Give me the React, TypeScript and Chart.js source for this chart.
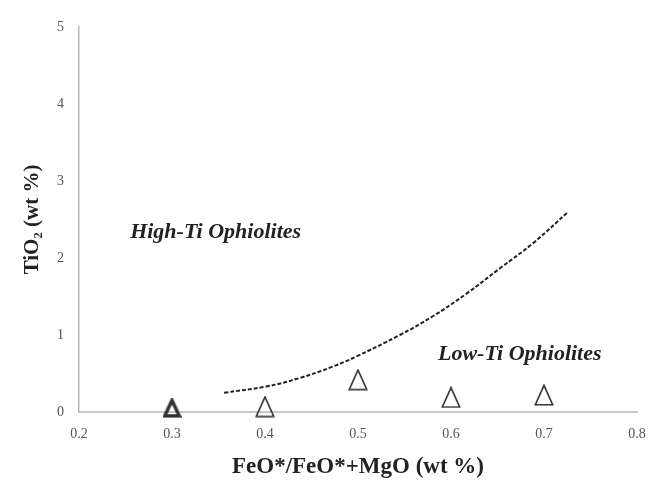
import React, { useEffect, useRef } from "react";
import { Chart, registerables } from "chart.js";

Chart.register(...registerables);

// Sample points (FeO*/FeO*+MgO vs TiO2)
const sampleX = [0.3, 0.4, 0.5, 0.6, 0.7];
const sampleY = [0.05, 0.07, 0.42, 0.19, 0.22];
const sampleBorderWidths = [3.5, 1.6, 1.6, 1.6, 1.6];

// Dividing curve (dashed)
const curveX = [0.356, 0.401, 0.437, 0.473, 0.498, 0.545, 0.58, 0.617, 0.653, 0.688, 0.726];
const curveY = [0.25, 0.33, 0.44, 0.59, 0.72, 1.0, 1.24, 1.54, 1.87, 2.19, 2.6];

// Field labels
const fieldLabels = ["High-Ti Ophiolites", "Low-Ti Ophiolites"];
const fieldLabelX = [0.255, 0.586];
const fieldLabelY = [2.34, 0.75];

// Axis ticks
const xTicks = [0.2, 0.3, 0.4, 0.5, 0.6, 0.7, 0.8];
const yTicks = [0, 1, 2, 3, 4, 5];

const SERIF = "'Liberation Serif', 'Times New Roman', serif";

function makeTriangle(lineWidth: number, w: number, h: number) {
  const c = document.createElement("canvas");
  c.width = w;
  c.height = h;
  const g = c.getContext("2d")!;
  const p = lineWidth / 2 + 0.5;
  g.strokeStyle = "#333";
  g.lineWidth = lineWidth;
  g.lineJoin = "miter";
  g.beginPath();
  g.moveTo(w / 2, p);
  g.lineTo(w - p, h - p);
  g.lineTo(p, h - p);
  g.closePath();
  g.stroke();
  return c;
}

const fieldLabelPlugin = {
  id: "fieldLabels",
  afterDatasetsDraw(chart: any) {
    const { ctx, scales } = chart;
    ctx.save();
    ctx.font = `italic bold 22px ${SERIF}`;
    ctx.fillStyle = "#222";
    ctx.textAlign = "left";
    ctx.textBaseline = "middle";
    fieldLabels.forEach((t, i) => {
      ctx.fillText(t, scales.x.getPixelForValue(fieldLabelX[i]), scales.y.getPixelForValue(fieldLabelY[i]));
    });
    ctx.restore();
  },
};

export default function App() {
  const ref = useRef<HTMLCanvasElement | null>(null);

  useEffect(() => {
    if (!ref.current) return;
    const triangles = sampleBorderWidths.map((lw) => (lw > 2 ? makeTriangle(lw, 19, 20) : makeTriangle(lw, 20, 22)));
    const chart = new Chart(ref.current, {
      type: "scatter",
      data: {
        datasets: [
          {
            type: "line",
            data: curveX.map((x, i) => ({ x, y: curveY[i] })),
            borderColor: "#222",
            borderWidth: 2,
            borderDash: [4, 2],
            pointRadius: 0,
            tension: 0.4,
            fill: false,
            clip: false,
          } as any,
          {
            data: sampleX.map((x, i) => ({ x, y: sampleY[i] })),
            pointStyle: triangles,
            pointRadius: 10,
            pointHoverRadius: 10,
            clip: false,
          } as any,
        ],
      },
      options: {
        animation: false,
        responsive: false,
        events: [],
        layout: { padding: { top: 27, right: 24, left: 0, bottom: 0 } },
        plugins: { legend: { display: false }, tooltip: { enabled: false } },
        scales: {
          x: {
            type: "linear",
            min: 0.2,
            max: 0.8,
            afterBuildTicks: (s: any) => {
              s.ticks = xTicks.map((v) => ({ value: v }));
            },
            afterFit: (s: any) => {
              s.height = 83;
            },
            grid: { display: false, drawTicks: false },
            border: { display: true, color: "#c8c8c8", width: 2 },
            ticks: {
              padding: 14,
              color: "#555",
              font: { family: SERIF, size: 14 },
              callback: (v: any) => Number(v).toFixed(1),
            },
            title: {
              display: true,
              text: "FeO*/FeO*+MgO (wt %)",
              color: "#222",
              font: { family: SERIF, size: 23, weight: "bold" },
              padding: { top: 0, bottom: 14 },
            },
          },
          y: {
            type: "linear",
            min: 0,
            max: 5,
            afterBuildTicks: (s: any) => {
              s.ticks = yTicks.map((v) => ({ value: v }));
            },
            afterFit: (s: any) => {
              s.width = 79;
            },
            grid: { display: false, drawTicks: false },
            border: { display: true, color: "#b8b8b8", width: 1.5 },
            ticks: {
              padding: 15,
              color: "#555",
              font: { family: SERIF, size: 14 },
            },
            title: {
              display: true,
              text: "TiO₂ (wt %)",
              color: "#222",
              font: { family: SERIF, size: 21, weight: "bold" },
              padding: { top: 20, bottom: 0 },
            },
          },
        },
      },
      plugins: [fieldLabelPlugin],
    });
    return () => chart.destroy();
  }, []);

  return (
    <div style={{ position: "fixed", left: 0, top: 0, width: 661, height: 495, background: "#fff" }}>
      <canvas ref={ref} width={661} height={495} style={{ display: "block" }} />
    </div>
  );
}
